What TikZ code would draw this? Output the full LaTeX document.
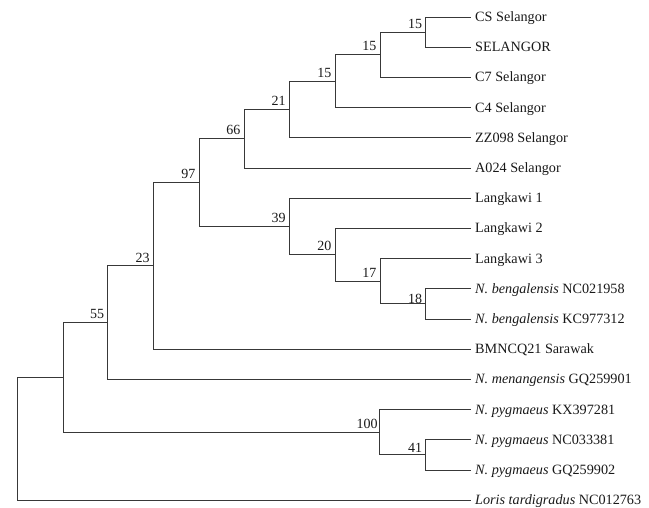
\documentclass[tikz,border=0pt]{standalone}
\usepackage{fontspec}
\setmainfont{Liberation Serif}
\begin{document}
\begin{tikzpicture}[x=1pt,y=-1pt,
  br/.style={draw=black!78,line width=1pt},
  leaf/.style={anchor=west,inner xsep=4pt,inner ysep=0pt,text height=9pt,text depth=0pt,font=\fontsize{14.2}{16}\selectfont,text=black!90},
  bs/.style={anchor=south east,inner sep=0pt,font=\fontsize{14}{16}\selectfont,text=black!90,xshift=-3.5pt,yshift=3.5pt}]
\useasboundingbox (0,0) rectangle (649,507);
% leaves
\node[leaf] (L0) at (471,17) {CS Selangor};
\node[leaf] (L1) at (471,47.2) {SELANGOR};
\node[leaf] (L2) at (471,77.4) {C7 Selangor};
\node[leaf] (L3) at (471,107.6) {C4 Selangor};
\node[leaf] (L4) at (471,137.8) {ZZ098 Selangor};
\node[leaf] (L5) at (471,168) {A024 Selangor};
\node[leaf] (L6) at (471,198.2) {Langkawi 1};
\node[leaf] (L7) at (471,228.4) {Langkawi 2};
\node[leaf] (L8) at (471,258.6) {Langkawi 3};
\node[leaf] (L9) at (471,288.8) {\textit{N. bengalensis} NC021958};
\node[leaf] (L10) at (471,319) {\textit{N. bengalensis} KC977312};
\node[leaf] (L11) at (471,349.2) {BMNCQ21 Sarawak};
\node[leaf] (L12) at (471,379.4) {\textit{N. menangensis} GQ259901};
\node[leaf] (L13) at (471,409.6) {\textit{N. pygmaeus} KX397281};
\node[leaf] (L14) at (471,439.8) {\textit{N. pygmaeus} NC033381};
\node[leaf] (L15) at (471,470) {\textit{N. pygmaeus} GQ259902};
\node[leaf] (L16) at (471,500.2) {\textit{Loris tardigradus} NC012763};
% internal nodes
\coordinate (n15a) at (425.7,32.1);
\coordinate (n15b) at (380,54.75);
\coordinate (n15c) at (335,81.2);
\coordinate (n21) at (289.3,109.5);
\coordinate (n66) at (244,138.75);
\coordinate (n18) at (425.7,303.9);
\coordinate (n17) at (380,281.25);
\coordinate (n20) at (335,254.8);
\coordinate (n39) at (289.3,226.5);
\coordinate (n97) at (199,182.6);
\coordinate (n23) at (153.3,265.9);
\coordinate (n55) at (107.7,322.65);
\coordinate (n41) at (425.7,454.9);
\coordinate (n100) at (379.3,432.25);
\coordinate (n63) at (63,377.45);
\coordinate (root) at (17.3,438.8);
% branches
\draw[br] (n15a) |- (L0.west);
\draw[br] (n15a) |- (L1.west);
\draw[br] (n15b) |- (n15a);
\draw[br] (n15b) |- (L2.west);
\draw[br] (n15c) |- (n15b);
\draw[br] (n15c) |- (L3.west);
\draw[br] (n21) |- (n15c);
\draw[br] (n21) |- (L4.west);
\draw[br] (n66) |- (n21);
\draw[br] (n66) |- (L5.west);
\draw[br] (n18) |- (L9.west);
\draw[br] (n18) |- (L10.west);
\draw[br] (n17) |- (L8.west);
\draw[br] (n17) |- (n18);
\draw[br] (n20) |- (L7.west);
\draw[br] (n20) |- (n17);
\draw[br] (n39) |- (L6.west);
\draw[br] (n39) |- (n20);
\draw[br] (n97) |- (n66);
\draw[br] (n97) |- (n39);
\draw[br] (n23) |- (n97);
\draw[br] (n23) |- (L11.west);
\draw[br] (n55) |- (n23);
\draw[br] (n55) |- (L12.west);
\draw[br] (n41) |- (L14.west);
\draw[br] (n41) |- (L15.west);
\draw[br] (n100) |- (L13.west);
\draw[br] (n100) |- (n41);
\draw[br] (n63) |- (n55);
\draw[br] (n63) |- (n100);
\draw[br] (root) |- (n63);
\draw[br] (root) |- (L16.west);
% bootstrap labels
\node[bs] (b15a) at (n15a) {15};
\node[bs] (b15b) at (n15b) {15};
\node[bs] (b15c) at (n15c) {15};
\node[bs] (b21) at (n21) {21};
\node[bs] (b66) at (n66) {66};
\node[bs] (b97) at (n97) {97};
\node[bs] (b39) at (n39) {39};
\node[bs] (b20) at (n20) {20};
\node[bs] (b17) at (n17) {17};
\node[bs,yshift=-3pt] (b18) at (n18) {18};
\node[bs] (b23) at (n23) {23};
\node[bs] (b55) at (n55) {55};
\node[bs,xshift=2pt] (b100) at (n100) {100};
\node[bs,yshift=-1.5pt] (b41) at (n41) {41};
\end{tikzpicture}
\end{document}
